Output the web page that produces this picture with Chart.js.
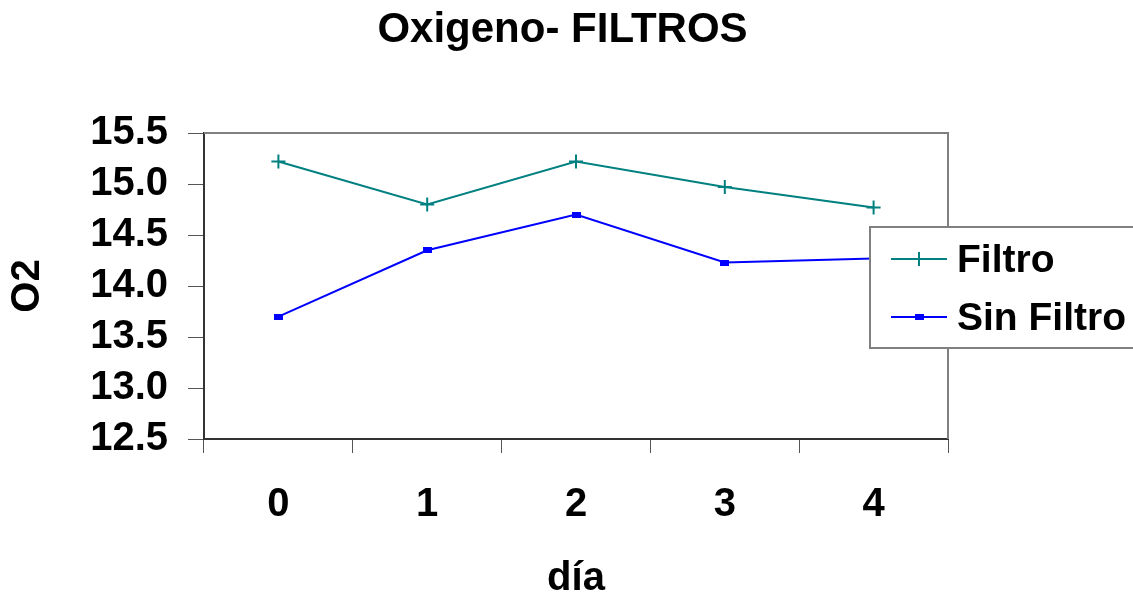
<!DOCTYPE html>
<html>
<head>
<meta charset="utf-8">
<title>Oxigeno- FILTROS</title>
<script src="https://cdn.jsdelivr.net/npm/chart.js@4/dist/chart.umd.min.js"></script>
<style>
  html, body { margin: 0; padding: 0; background: #fff; }
  #wrap { width: 1133px; height: 599px; }
</style>
</head>
<body>
<div id="wrap"><canvas id="oxigeno"></canvas></div>
<script>
// Datos de oxígeno por día
const dias = ['0', '1', '2', '3', '4'];
const filtro = [15.22, 14.80, 15.22, 14.97, 14.77];
const sinFiltro = [13.70, 14.35, 14.70, 14.23, 14.27];
const ejeY = { min: 12.5, max: 15.5, paso: 0.5 };

const fuente = "'Liberation Sans', Arial, sans-serif";
const negrita = { family: fuente, size: 40, weight: 'bold' };

// Marcador rectangular achatado para la serie sin filtro
const marcaSinFiltro = document.createElement('canvas');
marcaSinFiltro.width = 9;
marcaSinFiltro.height = 6;
const mctx = marcaSinFiltro.getContext('2d');
mctx.fillStyle = '#0000FF';
mctx.fillRect(0, 0, 9, 6);

// Borde gris superior y derecho del área de trazado
const bordeArea = {
    id: 'bordeArea',
    beforeDatasetsDraw(chart) {
        const { ctx, chartArea: a } = chart;
        ctx.save();
        ctx.strokeStyle = '#808080';
        ctx.lineWidth = 2;
        ctx.beginPath();
        ctx.moveTo(a.left, a.top);
        ctx.lineTo(a.right, a.top);
        ctx.lineTo(a.right, a.bottom);
        ctx.stroke();
        ctx.restore();
    }
};

// Leyenda con recuadro, superpuesta a la derecha
const leyenda = {
    id: 'leyenda',
    afterDatasetsDraw(chart) {
        const ctx = chart.ctx;
        const x = 870, y = 227, w = 280, h = 121;
        ctx.save();
        ctx.fillStyle = '#fff';
        ctx.fillRect(x, y, w, h);
        ctx.strokeStyle = '#808080';
        ctx.lineWidth = 2;
        ctx.strokeRect(x, y, w, h);
        chart.data.datasets.forEach(function (ds, i) {
            const cy = 259 + i * 58;
            ctx.strokeStyle = ds.borderColor;
            ctx.lineWidth = 2;
            ctx.beginPath();
            ctx.moveTo(891, cy);
            ctx.lineTo(947, cy);
            ctx.stroke();
            Chart.helpers.drawPoint(ctx, {
                pointStyle: ds.pointStyle,
                radius: ds.pointRadius,
                rotation: 0,
                borderWidth: 2
            }, 919, cy);
            ctx.fillStyle = '#000';
            ctx.font = 'bold 39px ' + fuente;
            ctx.textBaseline = 'middle';
            ctx.textAlign = 'left';
            ctx.fillText(ds.label, 957, cy + 2);
        });
        ctx.restore();
    }
};

const ctx = document.getElementById('oxigeno').getContext('2d');
const grafico = new Chart(ctx, {
    type: 'line',
    data: {
        labels: dias,
        datasets: [
            {
                label: 'Filtro',
                data: filtro,
                borderColor: '#008080',
                backgroundColor: '#008080',
                borderWidth: 2,
                pointStyle: 'cross',
                pointRadius: 7,
                pointBorderWidth: 2,
                tension: 0
            },
            {
                label: 'Sin Filtro',
                data: sinFiltro,
                borderColor: '#0000FF',
                backgroundColor: '#0000FF',
                borderWidth: 2,
                pointStyle: marcaSinFiltro,
                pointRadius: 5,
                tension: 0
            }
        ]
    },
    options: {
        responsive: true,
        maintainAspectRatio: false,
        animation: false,
        layout: { padding: { right: 8 } },
        plugins: {
            legend: { display: false },
            tooltip: { enabled: false },
            title: {
                display: true,
                text: 'Oxigeno- FILTROS',
                color: '#000',
                font: { family: fuente, size: 42, weight: 'bold', lineHeight: 1.2 },
                padding: { top: 5, bottom: 77.6 }
            }
        },
        scales: {
            x: {
                offset: true,
                grid: {
                    offset: true,
                    drawOnChartArea: false,
                    tickLength: 14,
                    color: '#555',
                    lineWidth: 1
                },
                border: { color: '#333', width: 2 },
                ticks: { color: '#000', font: negrita, padding: 28, maxRotation: 0, autoSkip: false },
                title: {
                    display: true,
                    text: 'día',
                    color: '#000',
                    font: { family: fuente, size: 40, weight: 'bold', lineHeight: 1 },
                    padding: { top: 0, bottom: 0 }
                },
                afterFit(scale) { scale.height = 160; }
            },
            y: {
                min: ejeY.min,
                max: ejeY.max,
                grid: {
                    drawOnChartArea: false,
                    tickLength: 16,
                    color: '#555',
                    lineWidth: 1
                },
                border: { color: '#333', width: 2 },
                ticks: {
                    stepSize: ejeY.paso,
                    autoSkip: false,
                    color: '#000',
                    font: negrita,
                    padding: 20,
                    callback: function (v) { return v.toFixed(1); }
                },
                title: {
                    display: true,
                    text: 'O2',
                    color: '#000',
                    font: { family: fuente, size: 40, weight: 'bold', lineHeight: 1 },
                    padding: { top: 8, bottom: 0 }
                },
                afterFit(scale) { scale.width = 204; }
            },
            // eje derecho vacío: reserva el espacio donde se monta la leyenda
            margen: {
                position: 'right',
                display: true,
                grid: { display: false },
                border: { display: false },
                ticks: { display: false },
                afterFit(scale) { scale.width = 177; }
            }
        }
    },
    plugins: [bordeArea, leyenda]
});
</script>
</body>
</html>
